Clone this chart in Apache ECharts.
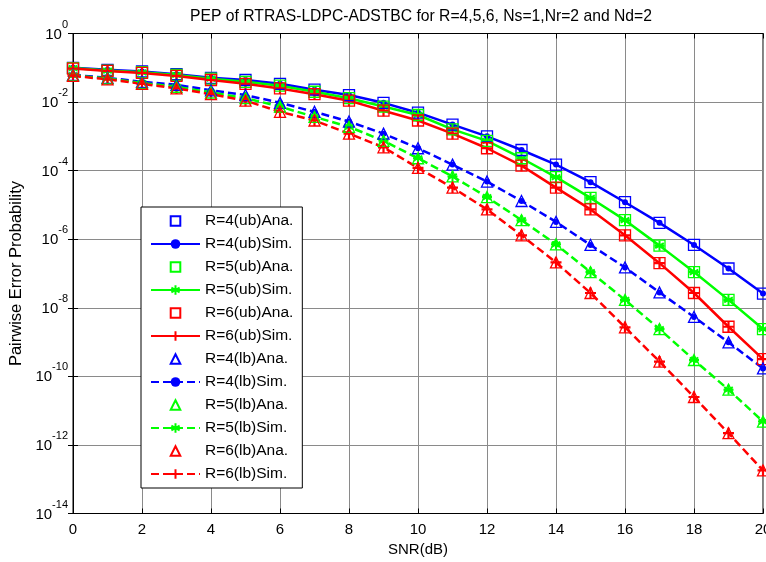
<!DOCTYPE html>
<html><head><meta charset="utf-8">
<script src="https://cdn.jsdelivr.net/npm/echarts@6/dist/echarts.min.js"></script>
<style>html,body{margin:0;padding:0;background:#fff}#c{width:766px;height:562px}</style>
</head><body><div id="c"></div>
<script>
const titleText = 'PEP of RTRAS-LDPC-ADSTBC for R=4,5,6, Ns=1,Nr=2 and Nd=2';
const xName = 'SNR(dB)';
const yName = 'Pairwise Error Probability';
const snr = [0,1,2,3,4,5,6,7,8,9,10,11,12,13,14,15,16,17,18,19,20];
const xTicks = [0,2,4,6,8,10,12,14,16,18,20];
const yTickExps = [0,-2,-4,-6,-8,-10,-12,-14];

// upper bound (ub)
const r4ub = [1.0e-1,8.7e-2,7.8e-2,6.5e-2,5.1e-2,4.4e-2,3.4e-2,2.3e-2,1.6e-2,9.5e-3,4.9e-3,2.2e-3,1.0e-3,4.0e-4,1.5e-4,4.6e-5,1.2e-5,3.0e-6,6.8e-7,1.4e-7,2.6e-8];
const r5ub = [9.8e-2,8.3e-2,7.4e-2,6.2e-2,4.8e-2,3.9e-2,3.0e-2,2.0e-2,1.3e-2,7.4e-3,4.2e-3,1.6e-3,7.4e-4,2.3e-4,6.5e-5,1.6e-5,3.6e-6,6.5e-7,1.1e-7,1.7e-8,2.4e-9];
const r6ub = [9.5e-2,8.1e-2,7.1e-2,5.8e-2,4.4e-2,3.4e-2,2.5e-2,1.7e-2,1.1e-2,5.6e-3,2.9e-3,1.2e-3,4.5e-4,1.4e-4,3.2e-5,7.4e-6,1.3e-6,2.0e-7,2.7e-8,2.8e-9,3.2e-10];
// lower bound (lb)
const r4lb = [6.2e-2,5.1e-2,3.9e-2,3.2e-2,2.2e-2,1.6e-2,9.5e-3,5.2e-3,2.7e-3,1.2e-3,4.5e-4,1.5e-4,4.8e-5,1.3e-5,3.2e-6,6.8e-7,1.5e-7,2.8e-8,5.4e-9,9.8e-10,1.7e-10];
const r5lb = [6.0e-2,4.9e-2,3.6e-2,2.8e-2,1.9e-2,1.3e-2,7.4e-3,3.7e-3,1.9e-3,7.4e-4,2.3e-4,6.8e-5,1.7e-5,3.6e-6,7.1e-7,1.1e-7,1.7e-8,2.4e-9,3.0e-10,4.1e-11,4.8e-12];
const r6lb = [5.8e-2,4.6e-2,3.4e-2,2.5e-2,1.7e-2,1.1e-2,5.2e-3,2.9e-3,1.2e-3,4.8e-4,1.2e-4,3.2e-5,7.4e-6,1.3e-6,2.1e-7,2.7e-8,2.7e-9,2.7e-10,2.5e-11,2.2e-12,1.8e-13];

const FONT = '"Liberation Sans", Arial, sans-serif';
const BLUE = '#0000ff', GREEN = '#00ff00', RED = '#ff0000';
const PLUS = 'path://M0,-5L0,5M-5,0L5,0';
const STAR = 'path://M0,-5L0,5M-4.3,-2.5L4.3,2.5M-4.3,2.5L4.3,-2.5M-5,0L5,0';

function pairs(vals){ return snr.map((x,i)=>[x, vals[i]]); }
function ana(name, vals, color, symbol){
  return {name, type:'line', data:pairs(vals), symbol, symbolSize:11,
    showSymbol:true, lineStyle:{width:0, opacity:0},
    itemStyle:{color:'rgba(0,0,0,0)', borderColor:color, borderWidth:1.3},
    emphasis:{disabled:true}, z:3};
}
function sim(name, vals, color, dashed, mk){
  const s = {name, type:'line', data:pairs(vals), showSymbol:true,
    lineStyle:{color, width:2.5, type: dashed ? [8,4] : 'solid'},
    emphasis:{disabled:true}, z:2};
  if (mk === 'dot') { s.symbol='circle'; s.symbolSize=6; s.itemStyle={color, borderWidth:0}; }
  else if (mk === 'star') { s.symbol=STAR; s.symbolSize=10; s.itemStyle={color, borderColor:color, borderWidth:2}; }
  else { s.symbol=PLUS; s.symbolSize=11; s.itemStyle={color, borderColor:color, borderWidth:2.2}; }
  return s;
}

const series = [
  ana('R=4(ub)Ana.', r4ub, BLUE, 'rect'),
  sim('R=4(ub)Sim.', r4ub, BLUE, false, 'dot'),
  ana('R=5(ub)Ana.', r5ub, GREEN, 'rect'),
  sim('R=5(ub)Sim.', r5ub, GREEN, false, 'star'),
  ana('R=6(ub)Ana.', r6ub, RED, 'rect'),
  sim('R=6(ub)Sim.', r6ub, RED, false, 'plus'),
  ana('R=4(lb)Ana.', r4lb, BLUE, 'triangle'),
  sim('R=4(lb)Sim.', r4lb, BLUE, true, 'dot'),
  ana('R=5(lb)Ana.', r5lb, GREEN, 'triangle'),
  sim('R=5(lb)Sim.', r5lb, GREEN, true, 'star'),
  ana('R=6(lb)Ana.', r6lb, RED, 'triangle'),
  sim('R=6(lb)Sim.', r6lb, RED, true, 'plus')
];

const gridLine = {show:true, lineStyle:{color:'#8a8a8a', width:1}};
const chart = echarts.init(document.getElementById('c'), null, {renderer:'canvas'});
chart.setOption({
  animation:false,
  backgroundColor:'#fff',
  title:{text:titleText, left:416, top:4, textAlign:'center',
    textStyle:{fontFamily:FONT, fontSize:15.7, fontWeight:'normal', color:'#000'}},
  grid:{left:73, right:3, top:33.5, bottom:48.5, show:true, borderColor:'#000', borderWidth:1,
    containLabel:false, outerBoundsMode:'none'},
  legend:{orient:'vertical', left:141, top:207, padding:[6,9,6,9], itemWidth:49, itemHeight:12, itemGap:7,
    backgroundColor:'#fff', borderColor:'#000', borderWidth:1, borderRadius:0,
    textStyle:{fontFamily:FONT, fontSize:15.5, color:'#000', lineHeight:16},
    data: series.map(s=>s.name)},
  xAxis:[
    {type:'value', min:0, max:20, interval:2, name:xName, nameLocation:'middle', nameGap:27,
     nameTextStyle:{fontFamily:FONT, fontSize:15, color:'#000'},
     axisLine:{show:true, lineStyle:{color:'#000', width:1}},
     axisTick:{show:true, inside:true, length:5, lineStyle:{color:'#000'}},
     axisLabel:{fontFamily:FONT, fontSize:15, color:'#000', margin:9},
     splitLine:gridLine},
    {type:'value', position:'top', min:0, max:20, interval:2,
     axisLine:{show:true, lineStyle:{color:'#000'}},
     axisTick:{show:true, inside:true, length:5, lineStyle:{color:'#000'}},
     axisLabel:{show:false}, splitLine:{show:false}}
  ],
  yAxis:[
    {type:'log', logBase:10, min:1e-14, max:1, interval:2, name:yName, nameLocation:'middle', nameGap:42,
     nameTextStyle:{fontFamily:FONT, fontSize:16.5, color:'#000'},
     axisLine:{show:true, lineStyle:{color:'#000', width:1}},
     axisTick:{show:true, inside:true, length:5, lineStyle:{color:'#000'}},
     axisLabel:{margin:5, padding:[0,0,6,0],
       formatter:function(v){ const e=Math.round(Math.log10(v)); return '{b|10}{s|'+e+'}'; },
       rich:{b:{fontFamily:FONT, fontSize:15, color:'#000', padding:[8,0,0,0], verticalAlign:'bottom'},
             s:{fontFamily:FONT, fontSize:11, color:'#000', verticalAlign:'top'}}},
     splitLine:gridLine, minorTick:{show:false}},
    {type:'log', logBase:10, min:1e-14, max:1, interval:2, position:'right',
     axisLine:{show:true, lineStyle:{color:'#000'}},
     axisTick:{show:true, inside:true, length:5, lineStyle:{color:'#000'}},
     axisLabel:{show:false}, splitLine:{show:false}}
  ],
  series: series
});
</script>
</body></html>
